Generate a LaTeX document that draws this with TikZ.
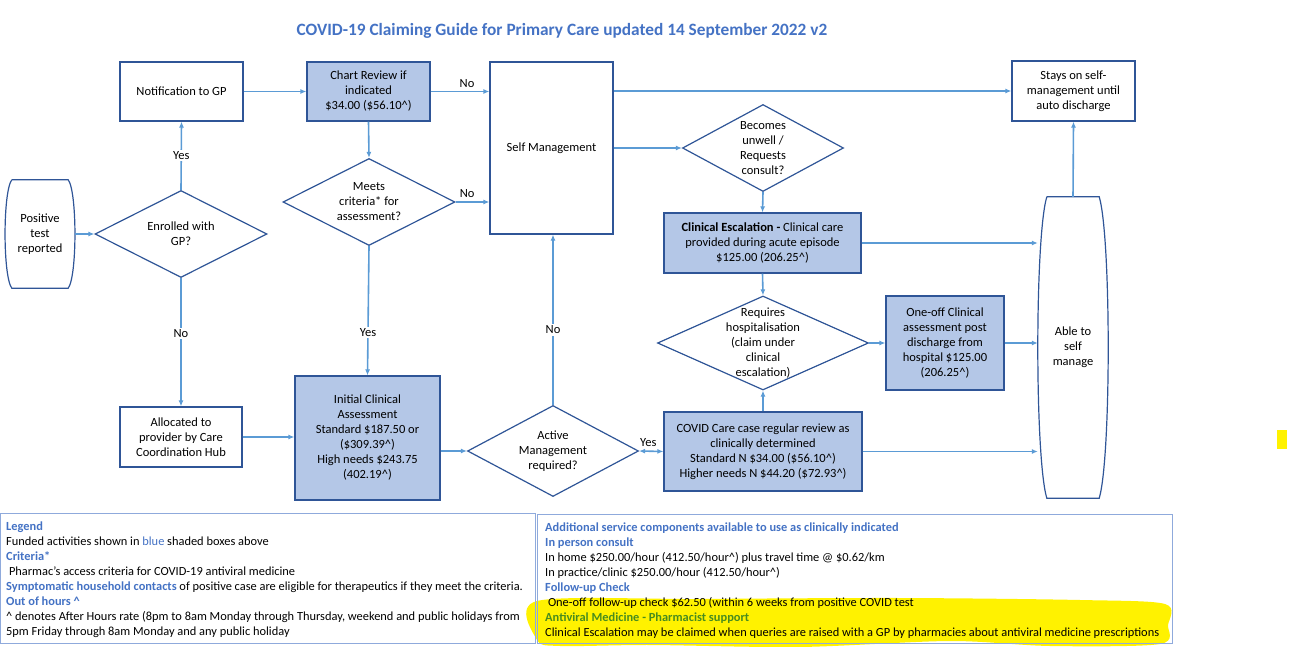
\documentclass[tikz,border=0pt]{standalone}
\usepackage{fontspec}
\setmainfont{Carlito}
\usetikzlibrary{arrows.meta, positioning, shapes.geometric}
\definecolor{edge}{RGB}{47,85,151}
\definecolor{fund}{RGB}{180,199,231}
\definecolor{flow}{RGB}{91,155,213}
\definecolor{head}{RGB}{68,114,196}
\definecolor{frame}{RGB}{143,170,220}
\definecolor{pharm}{RGB}{72,140,30}
\newcommand{\ahr}{\textasciicircum}
\newcommand{\hdg}[1]{\textcolor{head}{\bfseries #1}}
\tikzset{
  box/.style={rectangle,draw=edge,line width=1.2pt,fill=white,align=center,inner sep=2pt,font=\fontsize{12.5}{15}\selectfont},
  funded/.style={box,fill=fund},
  decision/.style={diamond,draw=edge,line width=1.2pt,fill=white,inner sep=0pt,aspect=1},
  dtext/.style={align=center,font=\fontsize{12.5}{15}\selectfont},
  line/.style={->,draw=flow,line width=1.6pt},
  both/.style={<->,draw=flow,line width=1.6pt},
  tag/.style={fill=white,inner sep=1.5pt,font=\fontsize{12.5}{15}\selectfont},
  note/.style={align=left,anchor=north west,inner sep=0pt,font=\fontsize{12.4}{15}\selectfont}
}

\begin{document}
\begin{tikzpicture}[x=1pt,y=-1pt,>={Latex[length=6pt,width=5pt]}]
\useasboundingbox (0,0) rectangle (1303,647);
\node[font=\fontsize{17.3}{20}\selectfont\bfseries,text=head] (title) at (562,31) {COVID-19 Claiming Guide for Primary Care updated 14 September 2022 v2};

% left column
\node[dtext, minimum width=70pt, minimum height=108pt] (pos) at (40,234) {Positive\\test\\reported};
\draw[draw=edge,line width=1.2pt] ([xshift=7pt]pos.north west) -- ([xshift=-7pt]pos.north east)
  .. controls +(9,12) and +(9,-12) .. ([xshift=-7pt]pos.south east) -- ([xshift=7pt]pos.south west)
  .. controls +(-9,-12) and +(-9,12) .. ([xshift=7pt]pos.north west);
\node[decision, minimum width=172pt, minimum height=87pt, label={[dtext]center:Enrolled with\\GP?}] (enrol) at (181,234) {};
\node[box, minimum width=123pt, minimum height=59pt] (notify) at (181.5,91.5) {Notification to GP};
\node[box, minimum width=122pt, minimum height=60pt] (hub) at (181,437) {Allocated to\\provider by Care\\Coordination Hub};

% second column
\node[funded, minimum width=123pt, minimum height=59pt] (chart) at (368.5,91.5) {Chart Review if\\indicated\\\$34.00 (\$56.10\ahr)};
\node[decision, minimum width=172pt, minimum height=87pt, label={[dtext]center:Meets\\criteria* for\\assessment?}] (crit) at (369,202) {};
\node[funded, minimum width=145pt, minimum height=124pt] (initial) at (367.5,438) {Initial Clinical\\Assessment\\Standard \$187.50 or\\(\$309.39\ahr)\\High needs \$243.75\\(402.19\ahr)};

% middle
\node[box, minimum width=123pt, minimum height=172pt] (self) at (551.5,148) {Self Management};
\node[decision, minimum width=171pt, minimum height=91pt, label={[dtext]center:Active\\Management\\required?}] (active) at (553,451) {};

% right part
\node[decision, minimum width=161pt, minimum height=87pt, label={[dtext]center:Becomes\\unwell /\\Requests\\consult?}] (unwell) at (763,148) {};
\node[funded, minimum width=197pt, minimum height=60pt] (escal) at (762.5,243) {\textbf{Clinical Escalation -} Clinical care\\provided during acute episode\\\$125.00 (206.25\ahr)};
\node[decision, minimum width=211pt, minimum height=94pt, label={[dtext]center:Requires\\hospitalisation\\(claim under\\clinical\\escalation)}] (hosp) at (763,343) {};
\node[funded, minimum width=198pt, minimum height=79pt] (review) at (763,451.5) {COVID Care case regular review as\\clinically determined\\Standard N \$34.00 (\$56.10\ahr)\\Higher needs N \$44.20 (\$72.93\ahr)};
\node[funded, minimum width=118pt, minimum height=94pt] (oneoff) at (945,343) {One-off Clinical\\assessment post\\discharge from\\hospital \$125.00\\(206.25\ahr)};
\node[box, minimum width=123pt, minimum height=60pt] (stays) at (1073.5,91) {Stays on self-\\management until\\auto discharge};
\node[dtext, minimum width=70pt, minimum height=301pt] (able) at (1073,347.5) {Able to\\self\\manage};
\draw[draw=edge,line width=1.2pt] ([xshift=9pt]able.north west) -- ([xshift=-9pt]able.north east)
  .. controls +(12,40) and +(12,-40) .. ([xshift=-9pt]able.south east) -- ([xshift=9pt]able.south west)
  .. controls +(-12,-40) and +(-12,40) .. ([xshift=9pt]able.north west);

% connectors
\draw[line] (pos.east) -- (enrol.west);
\draw[line] (enrol.north) -- node[tag] {Yes} (notify.south);
\draw[line] (enrol.south) -- node[tag, pos=0.43] {No} (hub.north);
\draw[line] (notify.east) -- (chart.west);
\draw[line] (chart.east) -- node[above, pos=0.62, font=\fontsize{12.5}{15}\selectfont] {No} (chart.east -| self.west);
\draw[line] (chart.south) -- (crit.north);
\draw[line] (crit.east) -- node[above, pos=0.34, font=\fontsize{12.5}{15}\selectfont] {No} (crit.east -| self.west);
\draw[line] (crit.south) -- node[tag, pos=0.67] {Yes} (initial.north);
\draw[line] (hub.east) -- (hub.east -| initial.west);
\draw[line] (initial.east |- active.west) -- (active.west);
\draw[line] (active.north) -- node[tag, pos=0.44] {No} (active.north |- self.south);
\draw[both] (active.east) -- node[above, pos=0.38, font=\fontsize{12.5}{15}\selectfont] {Yes} (review.west);
\draw[line] (self.east |- stays.west) -- (stays.west);
\draw[line] (self.east |- unwell.west) -- (unwell.west);
\draw[line] (unwell.south) -- (escal.north);
\draw[line] (escal.south) -- (hosp.north);
\draw[line] (review.north) -- (hosp.south);
\draw[line] (hosp.east) -- (oneoff.west);
\draw[line] (escal.east) -- (escal.east -| able.west);
\draw[line] (oneoff.east) -- (oneoff.east -| able.west);
\draw[line] (review.east) -- (review.east -| able.west);
\draw[line] (able.north) -- (stays.south);

% legend
\fill[yellow] plot[smooth cycle] coordinates {(537,601) (700,599) (900,598) (1080,600) (1165,604) (1168,625) (1160,644) (1050,646) (950,641) (800,647) (650,645) (560,646) (537,640)};
\fill[yellow] (1277,430) rectangle (1287,449);
\draw[frame, line width=0.8pt] (0.5,513) rectangle (535,643);
\draw[frame, line width=0.8pt] (537,514) rectangle (1172,643);
\node[note] (legend) at (6,522) {\hdg{Legend}\\
Funded activities shown in \textcolor{head}{blue} shaded boxes above\\
\hdg{Criteria*}\\
\ Pharmac’s access criteria for COVID-19 antiviral medicine\\
\hdg{Symptomatic household contacts} of positive case are eligible for therapeutics if they meet the criteria.\\
\hdg{Out of hours \ahr}\\
\ahr{} denotes After Hours rate (8pm to 8am Monday through Thursday, weekend and public holidays from\\
5pm Friday through 8am Monday and any public holiday};
\node[note] (extras) at (545,523) {\hdg{Additional service components available to use as clinically indicated}\\
\hdg{In person consult}\\
In home \$250.00/hour (412.50/hour\ahr) plus travel time @ \$0.62/km\\
In practice/clinic \$250.00/hour (412.50/hour\ahr)\\
\hdg{Follow-up Check}\\
\ One-off follow-up check \$62.50 (within 6 weeks from positive COVID test\\
\textcolor{pharm}{\bfseries Antiviral Medicine - Pharmacist support}\\
Clinical Escalation may be claimed when queries are raised with a GP by pharmacies about antiviral medicine prescriptions};
\end{tikzpicture}
\end{document}
